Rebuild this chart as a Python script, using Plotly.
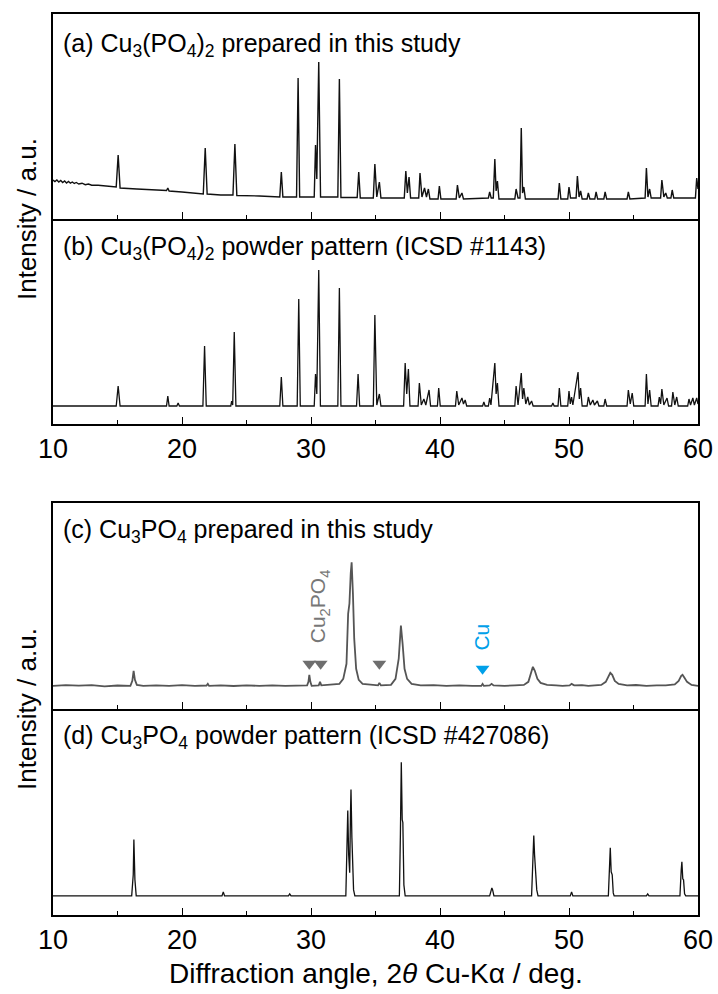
import plotly.graph_objects as go

# ---------------- data (2theta in deg, intensity in arbitrary units) ----------------
pattern_a = [(10.0, 39), (10.15, 37.5), (10.3, 39), (10.45, 37), (10.6, 38.5), (10.75, 36.5), (10.9, 38),
             (11.05, 36), (11.2, 37.5), (11.35, 35.8), (11.5, 37), (11.65, 35.5), (11.8, 36.5), (12.0, 35),
             (12.25, 35.8), (12.5, 34.3), (12.75, 35), (13.0, 33.8), (13.5, 33.8), (14.0, 33), (14.9, 32),
             (15.05, 64), (15.2, 31), (16.5, 30), (18.0, 29), (18.8, 28.5), (18.9, 31), (19.0, 28),
             (20.0, 27), (21.65, 25), (21.8, 71), (21.95, 25), (23.0, 24), (23.95, 24), (24.1, 75),
             (24.25, 23.5), (26.0, 23), (27.58, 22), (27.7, 47), (27.82, 22), (28.88, 22), (29.0, 141),
             (29.12, 22), (30.25, 22), (30.35, 74), (30.45, 40), (30.6, 157), (30.74, 22), (32.08, 22),
             (32.2, 140), (32.32, 21.5), (33.58, 21.5), (33.7, 47), (33.82, 21), (34.83, 21), (34.95, 55),
             (35.1, 22), (35.3, 37), (35.42, 21), (37.23, 21), (37.35, 48), (37.47, 26), (37.6, 42),
             (37.72, 21), (38.35, 21), (38.45, 46), (38.6, 22), (38.8, 31), (38.95, 22), (39.1, 30),
             (39.22, 20), (39.85, 20), (39.95, 33), (40.07, 20), (41.25, 20), (41.35, 34), (41.5, 21),
             (41.7, 26), (41.82, 20), (43.75, 21), (43.85, 27), (43.97, 21), (44.13, 21), (44.25, 60),
             (44.35, 28), (44.45, 38), (44.57, 20), (45.8, 20), (45.9, 30), (46.05, 21), (46.2, 21),
             (46.3, 91), (46.4, 26), (46.5, 32), (46.62, 20), (49.15, 20), (49.25, 36), (49.37, 20),
             (49.9, 20), (50.0, 32), (50.12, 21), (50.55, 21), (50.65, 43), (50.78, 22), (50.9, 28),
             (51.02, 20), (51.4, 20), (51.5, 26), (51.62, 20), (52.0, 20), (52.1, 27), (52.22, 20),
             (52.7, 20), (52.8, 27), (52.92, 20), (54.5, 20), (54.6, 27), (54.72, 20), (55.9, 21),
             (56.0, 51), (56.12, 22), (56.25, 30), (56.37, 21), (57.1, 21), (57.2, 39), (57.35, 22),
             (57.5, 26), (57.62, 21), (57.9, 21), (58.0, 29), (58.12, 21), (59.8, 21), (59.9, 41),
             (60.0, 30)]

pattern_b = [(10, 18), (14.9, 18), (15.05, 38), (15.2, 18), (18.8, 18), (18.9, 28), (19.0, 18), (19.6, 18),
             (19.7, 21), (19.8, 18), (21.62, 18), (21.75, 78), (21.88, 18), (23.78, 18), (23.85, 23),
             (23.93, 19), (24.05, 92), (24.18, 18), (27.58, 18), (27.7, 47), (27.82, 18), (28.93, 18),
             (29.05, 125), (29.17, 18), (30.25, 18), (30.35, 50), (30.45, 30), (30.6, 154), (30.73, 18),
             (32.08, 18), (32.2, 136), (32.32, 18), (33.53, 18), (33.65, 50), (33.77, 18), (34.83, 18),
             (34.95, 109), (35.1, 19), (35.3, 30), (35.42, 18), (37.18, 18), (37.3, 61), (37.42, 30),
             (37.55, 55), (37.67, 18), (38.3, 18), (38.4, 41), (38.55, 19), (38.75, 25), (38.9, 19),
             (39.15, 34), (39.27, 18), (39.8, 18), (39.9, 36), (40.02, 18), (41.2, 18), (41.3, 33),
             (41.45, 19), (41.7, 26), (41.82, 20), (41.95, 24), (42.07, 18), (43.3, 18), (43.4, 22),
             (43.5, 18), (43.75, 18), (43.85, 26), (43.95, 19), (44.25, 61), (44.35, 30), (44.45, 41),
             (44.57, 18), (45.8, 18), (45.9, 38), (46.05, 19), (46.3, 51), (46.4, 25), (46.5, 36),
             (46.65, 20), (46.8, 27), (46.93, 19), (47.1, 23), (47.22, 18), (48.65, 18), (48.75, 21),
             (48.85, 18), (49.15, 18), (49.25, 36), (49.37, 18), (49.9, 18), (50.0, 33), (50.1, 20),
             (50.2, 27), (50.3, 19), (50.7, 52), (50.8, 25), (50.9, 36), (51.02, 18), (51.4, 18),
             (51.5, 27), (51.65, 19), (51.85, 24), (51.97, 19), (52.2, 23), (52.32, 18), (52.7, 18),
             (52.8, 25), (52.92, 18), (54.5, 18), (54.6, 34), (54.75, 20), (54.9, 31), (55.02, 18),
             (55.9, 18), (56.0, 50), (56.12, 20), (56.25, 34), (56.37, 18), (56.9, 18), (57.0, 27),
             (57.1, 20), (57.2, 35), (57.35, 19), (57.6, 26), (57.72, 18), (57.95, 18), (58.05, 32),
             (58.2, 19), (58.35, 27), (58.47, 18), (59.2, 18), (59.3, 25), (59.42, 19), (59.6, 26),
             (59.72, 19), (59.9, 26), (60, 20)]

pattern_c = [(10, 23), (11, 23.8), (12, 23.2), (13, 23.7), (14, 22.6), (15, 23.4), (16.0, 23), (16.15, 28),
             (16.25, 38), (16.35, 29), (16.5, 24), (17, 23), (18, 23.6), (19, 23.1), (20, 23.7),
             (21, 23), (21.9, 23.4), (22.0, 25), (22.1, 23), (23, 23.6), (24, 22.9), (25, 23.5),
             (26, 23), (27, 23.6), (28, 23), (29, 23.5), (29.7, 23.5), (29.8, 27), (29.87, 34),
             (29.95, 27), (30.05, 23), (30.6, 23.5), (30.7, 27), (30.8, 23.5), (31.5, 24), (32.2, 25),
             (32.5, 30), (32.75, 45), (32.88, 95), (32.98, 105), (33.08, 135), (33.15, 146), (33.25, 115),
             (33.35, 70), (33.5, 40), (33.7, 29), (34.0, 25), (34.6, 24), (35.2, 23.5), (35.3, 26),
             (35.42, 23.5), (36.2, 24), (36.55, 30), (36.8, 50), (36.97, 83), (37.1, 65), (37.25, 40),
             (37.45, 30), (37.8, 25), (38.5, 23.5), (39.5, 23.8), (40.5, 23), (41.5, 23.6), (42.5, 23),
             (43.2, 23), (43.3, 25), (43.4, 23), (43.85, 23.5), (44.0, 25), (44.15, 23.5), (45.0, 23),
             (45.8, 23.6), (46.5, 24), (46.85, 27), (47.05, 35), (47.2, 42), (47.35, 38), (47.55, 30),
             (47.8, 26), (48.3, 24), (49.0, 23.6), (49.5, 23), (50.05, 23.5), (50.2, 25), (50.4, 23.5),
             (51.0, 23.8), (51.5, 23), (52.0, 23.6), (52.5, 24), (52.85, 27), (53.05, 33), (53.2, 36),
             (53.35, 34), (53.55, 28), (53.85, 25), (54.5, 23.5), (55.2, 23.9), (56, 23), (56.8, 23.6),
             (57.5, 23.5), (58.2, 24.5), (58.5, 28), (58.7, 33), (58.8, 34), (58.95, 31), (59.15, 27),
             (59.5, 24), (60, 23)]

pattern_d = [(10, 19), (16.1, 19), (16.22, 40), (16.27, 75), (16.35, 35), (16.45, 19), (23.1, 19),
             (23.2, 23), (23.3, 19), (28.25, 19), (28.35, 21), (28.45, 19), (32.7, 19), (32.8, 60),
             (32.85, 104), (32.92, 60), (33.0, 42), (33.06, 100), (33.1, 125), (33.17, 77), (33.22, 60),
             (33.3, 25), (33.4, 19), (36.85, 19), (36.93, 80), (37.0, 152), (37.07, 95), (37.12, 92),
             (37.2, 30), (37.3, 19), (43.85, 19), (43.95, 25), (44.02, 27), (44.08, 25), (44.18, 19),
             (47.1, 19), (47.2, 57), (47.27, 79), (47.33, 60), (47.42, 42), (47.5, 25), (47.6, 19),
             (50.1, 19), (50.2, 23), (50.3, 19), (53.05, 19), (53.15, 50), (53.2, 67), (53.27, 43),
             (53.35, 40), (53.43, 22), (53.5, 19), (56.0, 19), (56.1, 21), (56.2, 19), (58.6, 19),
             (58.7, 45), (58.75, 53), (58.82, 36), (58.88, 35), (58.96, 21), (59.05, 19), (60, 19)]

impurity_cu2po4_pos = [29.87, 30.75, 35.3]
impurity_cu2po4_y = [45, 45, 45]
impurity_cu_pos = [43.3]
impurity_cu_y = [40]

panel_labels = ["(a) Cu<sub>3</sub>(PO<sub>4</sub>)<sub>2</sub> prepared in this study",
                "(b) Cu<sub>3</sub>(PO<sub>4</sub>)<sub>2</sub> powder pattern (ICSD #1143)",
                "(c) Cu<sub>3</sub>PO<sub>4</sub> prepared in this study",
                "(d) Cu<sub>3</sub>PO<sub>4</sub> powder pattern (ICSD #427086)"]
x_tick_vals = [10, 20, 30, 40, 50, 60]

# ---------------- layout geometry ----------------
W, H = 718, 994
FONT = "Arial, Liberation Sans, Helvetica, sans-serif"
x_dom = [53 / W, 698 / W]
pix = [(14, 219), (219, 424), (503, 709), (709, 915)]
y_doms = [[1 - b / H, 1 - t / H] for t, b in pix]

fig = go.Figure()
patterns = [pattern_a, pattern_b, pattern_c, pattern_d]
colors = ["#111111", "#111111", "#555555", "#111111"]
widths = [1.4, 1.3, 1.8, 1.3]
for i, (pat, col, lw) in enumerate(zip(patterns, colors, widths)):
    ax = "" if i == 0 else str(i + 1)
    fig.add_trace(go.Scatter(x=[p[0] for p in pat], y=[p[1] for p in pat], mode="lines",
                             line=dict(color=col, width=lw), xaxis="x" + ax, yaxis="y" + ax,
                             showlegend=False, hoverinfo="skip"))

fig.add_trace(go.Scatter(x=impurity_cu2po4_pos, y=impurity_cu2po4_y, mode="markers",
                         marker=dict(symbol="triangle-down", size=12, color="#6e6e6e"),
                         xaxis="x3", yaxis="y3", showlegend=False, hoverinfo="skip"))
fig.add_trace(go.Scatter(x=impurity_cu_pos, y=impurity_cu_y, mode="markers",
                         marker=dict(symbol="triangle-down", size=12, color="#00a0e9"),
                         xaxis="x3", yaxis="y3", showlegend=False, hoverinfo="skip"))

layout = dict(width=W, height=H, margin=dict(l=0, r=0, t=0, b=0, autoexpand=False),
              paper_bgcolor="white", plot_bgcolor="white",
              font=dict(family=FONT, color="black"), showlegend=False)
for i in range(4):
    ax = "" if i == 0 else str(i + 1)
    show_labels = i in (1, 3)
    layout["xaxis" + ax] = dict(domain=x_dom, anchor="y" + ax, range=[10, 60], automargin=False,
                                tickvals=x_tick_vals, ticks="inside", ticklen=7, tickwidth=1.2,
                                tickcolor="black", showticklabels=show_labels,
                                tickfont=dict(size=27, family=FONT, color="black"),
                                showline=True, linecolor="black", linewidth=1.5,
                                mirror=(i in (0, 2)),
                                showgrid=False, zeroline=False,
                                minor=dict(dtick=5, tick0=0, ticks="inside", ticklen=4,
                                           tickwidth=1.2, tickcolor="black", showgrid=False))
    layout["yaxis" + ax] = dict(domain=y_doms[i], anchor="x" + ax, range=[0, 205], automargin=False,
                                showticklabels=False, ticks="", showline=True, linecolor="black",
                                linewidth=1.5, mirror=True, showgrid=False, zeroline=False)
fig.update_layout(**layout)

label_y = [45, 248, 531, 737]
for i in range(4):
    fig.add_annotation(text=panel_labels[i], xref="paper", yref="paper", x=61 / W,
                       y=1 - label_y[i] / H, xanchor="left", yanchor="middle", showarrow=False,
                       font=dict(size=25, family=FONT, color="black"))

for yc in [219, 709]:
    fig.add_annotation(text="Intensity / a.u.", xref="paper", yref="paper", x=27 / W,
                       y=1 - yc / H, textangle=-90, xanchor="center", yanchor="middle",
                       showarrow=False, font=dict(size=26, family=FONT, color="black"))

fig.add_annotation(text="Diffraction angle, 2<i>θ</i> Cu-Kα / deg.", xref="paper", yref="paper",
                   x=(53 + 698) / 2 / W, y=1 - 973 / H, xanchor="center", yanchor="middle",
                   showarrow=False, font=dict(size=28, family=FONT, color="black"))

fig.add_annotation(text="Cu<sub>2</sub>PO<sub>4</sub>", xref="x3", yref="y3", x=30.6, y=102,
                   textangle=-90, showarrow=False, xanchor="center", yanchor="middle",
                   font=dict(size=21, family=FONT, color="#777777"))
fig.add_annotation(text="Cu", xref="x3", yref="y3", x=43.25, y=72,
                   textangle=-90, showarrow=False, xanchor="center", yanchor="middle",
                   font=dict(size=21, family=FONT, color="#00a0e9"))

fig.write_html("out.html")
